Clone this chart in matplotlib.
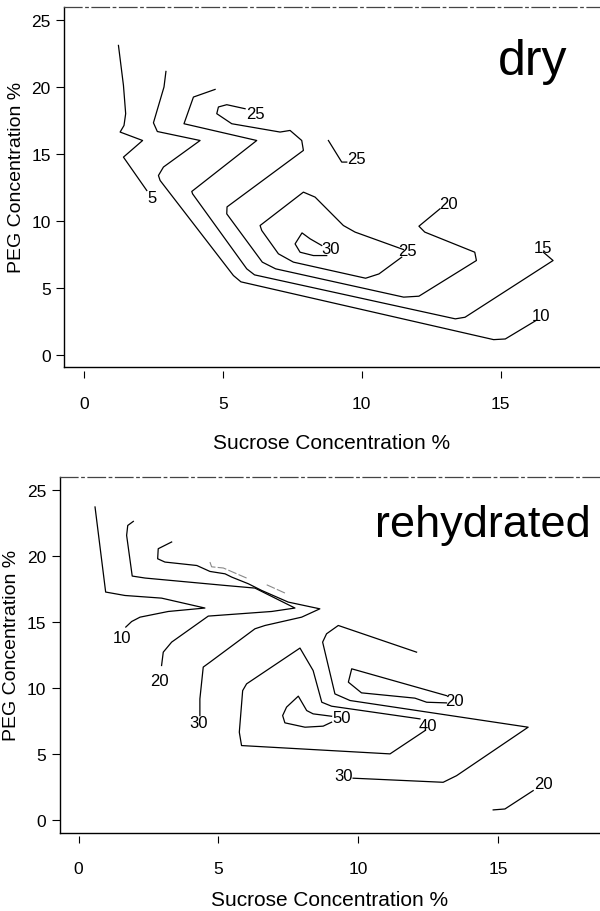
import matplotlib
matplotlib.use("Agg")
import matplotlib.pyplot as plt

plt.rcParams['font.family'] = ['Liberation Sans', 'DejaVu Sans']

# ---- dry panel: contour paths (sucrose %, PEG %) ----
dry_5_x = [1.24, 1.42, 1.50, 1.44, 1.30, 2.11, 1.42, 2.26]
dry_5_y = [23.08, 20.10, 17.99, 17.11, 16.62, 15.99, 14.75, 12.26]

dry_10_x = [2.95, 2.88, 2.50, 2.64, 4.18, 2.86, 2.68, 2.74, 5.38, 5.65, 14.75, 15.17, 16.27]
dry_10_y = [21.14, 19.98, 17.31, 16.66, 15.99, 14.01, 13.38, 13.01, 5.92, 5.45, 1.14, 1.19, 2.56]

dry_15_x = [4.72, 3.94, 3.60, 6.22, 3.88, 3.91, 5.86, 6.14, 13.37, 13.72, 16.89, 16.54]
dry_15_y = [19.80, 19.23, 17.24, 15.99, 12.19, 12.01, 6.42, 5.97, 2.69, 2.81, 7.04, 7.66]

dry_20_x = [5.80, 5.14, 4.84, 4.78, 5.32, 7.06, 7.42, 7.84, 7.90, 5.15, 5.14, 6.42, 6.90,
            11.51, 12.06, 14.13, 14.07, 12.27, 12.06, 12.82]
dry_20_y = [18.36, 18.66, 18.49, 17.99, 17.24, 16.62, 16.74, 15.99, 15.25, 11.04, 10.52, 6.92, 6.42,
            4.31, 4.38, 7.04, 7.66, 9.16, 9.60, 10.90]

dry_25_x = [11.44, 10.62, 10.14, 7.54, 7.00, 6.40, 6.34, 7.90, 8.32, 9.34, 9.76, 11.50]
dry_25_y = [7.29, 6.04, 5.72, 6.92, 7.54, 9.28, 9.65, 12.14, 11.77, 9.65, 9.16, 7.86]

dry_25b_x = [8.80, 9.28, 9.46]
dry_25b_y = [15.99, 14.38, 14.38]

dry_30_x = [8.56, 8.14, 7.85, 7.60, 7.78, 8.26, 8.74]
dry_30_y = [8.16, 8.66, 9.10, 8.28, 7.66, 7.41, 7.41]

dry_lab_txt = ['5', '10', '15', '25', '20', '25', '25', '30']
dry_lab_x = [2.44, 16.47, 16.54, 6.16, 13.11, 11.65, 9.82, 8.89]
dry_lab_y = [11.77, 2.93, 7.99, 17.99, 11.27, 7.78, 14.63, 7.91]

# ---- rehydrated panel ----
reh_10_x = [0.59, 0.97, 1.66, 2.97, 4.52, 3.21, 2.20, 1.90, 1.69]
reh_10_y = [23.73, 17.29, 17.03, 16.83, 16.08, 15.82, 15.39, 15.06, 14.64]

reh_20_x = [1.96, 1.76, 1.72, 1.92, 2.38, 5.24, 6.31, 7.74, 6.91, 4.64, 3.33, 3.03, 2.97]
reh_20_y = [22.64, 22.33, 21.58, 18.50, 18.35, 17.79, 17.59, 16.08, 15.82, 15.47, 13.50, 12.74, 11.73]

reh_30_x = [3.33, 2.85, 2.83, 3.09, 4.23, 4.70, 5.24, 5.48, 6.07, 6.55, 7.50, 8.63, 7.98,
            6.67, 6.31, 4.70, 4.46, 4.34, 4.34]
reh_30_y = [21.08, 20.57, 19.81, 19.56, 19.30, 18.85, 18.67, 18.42, 17.92, 17.41, 16.53, 16.02, 15.39,
            14.76, 14.51, 11.98, 11.61, 9.20, 7.94]

reh_faint_x = [4.70, 4.76, 5.18, 6.01]
reh_faint_y = [19.56, 19.20, 19.11, 18.35]
reh_faint2_x = [6.73, 7.44]
reh_faint2_y = [17.84, 17.16]

reh_30r_x = [12.09, 9.29, 8.87, 8.73, 9.17, 9.71, 16.08, 13.52, 13.04, 9.82]
reh_30r_y = [12.74, 14.76, 14.13, 13.50, 9.58, 9.08, 7.06, 3.39, 2.89, 3.20]

reh_40_x = [12.21, 9.05, 8.70, 8.39, 7.92, 6.01, 5.87, 5.75, 5.83, 11.14, 12.39]
reh_40_y = [7.69, 8.65, 8.95, 11.35, 13.05, 10.34, 9.83, 6.68, 5.67, 5.04, 6.80]

reh_50_x = [9.05, 8.75, 8.10, 7.38, 7.30, 7.44, 7.86, 8.16, 8.39, 9.05]
reh_50_y = [7.44, 7.14, 7.06, 7.39, 7.94, 8.58, 9.41, 8.32, 8.07, 7.89]

reh_20i_x = [13.16, 12.45, 12.03, 10.12, 9.65, 9.77, 13.16]
reh_20i_y = [8.90, 8.95, 9.26, 9.66, 10.47, 11.48, 9.45]

reh_20r_x = [14.83, 15.25, 16.26]
reh_20r_y = [0.80, 0.87, 2.26]

reh_lab_txt = ['10', '20', '30', '30', '40', '50', '20', '20']
reh_lab_x = [1.54, 2.91, 4.28, 9.47, 12.51, 9.41, 13.46, 16.62]
reh_lab_y = [13.83, 10.59, 7.44, 3.39, 7.18, 7.82, 9.08, 2.77]

xticks = [0, 5, 10, 15]
yticks = [0, 5, 10, 15, 20, 25]


def style_axes(ax, xlim, ylim, labelpad, ylab_x):
    ax.set_xlim(*xlim)
    ax.set_ylim(*ylim)
    ax.spines['right'].set_visible(False)
    ax.spines['top'].set_linestyle((0, (14, 3, 2, 3)))
    ax.spines['top'].set_color('#444444')
    ax.spines['top'].set_linewidth(0.9)
    ax.spines['left'].set_linewidth(1.0)
    ax.spines['bottom'].set_linewidth(1.0)
    ax.set_yticks(yticks)
    ax.tick_params(axis='y', length=5.5, width=0.8, pad=4, labelsize=12.5)
    ax.tick_params(axis='x', bottom=False, labelbottom=False)
    ax.set_ylabel("PEG Concentration %", fontsize=14)
    ax.yaxis.set_label_coords(ylab_x, 0.53)
    # x ticks sit a little below the frame
    sec = ax.secondary_xaxis(-0.009)
    sec.set_xticks(xticks)
    sec.spines['bottom'].set_visible(False)
    sec.tick_params(length=5, width=0.8, pad=13, labelsize=12.5)
    sec.set_xlabel("Sucrose Concentration %", fontsize=15, labelpad=labelpad)


fig = plt.figure(figsize=(6, 9.12), dpi=100)

ax1 = fig.add_axes([0.1067, 0.5962, 0.8933, 0.3951])
for xs, ys in [(dry_5_x, dry_5_y), (dry_10_x, dry_10_y), (dry_15_x, dry_15_y),
               (dry_20_x, dry_20_y), (dry_25_x, dry_25_y), (dry_25b_x, dry_25b_y),
               (dry_30_x, dry_30_y)]:
    ax1.plot(xs, ys, color='black', lw=0.9)
for t, x, y in zip(dry_lab_txt, dry_lab_x, dry_lab_y):
    ax1.text(x, y, t, fontsize=12, ha='center', va='center')
ax1.text(16.17, 20.97, "dry", fontsize=36, ha='center', va='baseline')
style_axes(ax1, (-0.72, 18.58), (-0.92, 25.95), 16, -0.072)

ax2 = fig.add_axes([0.0992, 0.0855, 0.9008, 0.3904])
for xs, ys in [(reh_10_x, reh_10_y), (reh_20_x, reh_20_y), (reh_30_x, reh_30_y),
               (reh_30r_x, reh_30r_y), (reh_40_x, reh_40_y), (reh_50_x, reh_50_y),
               (reh_20i_x, reh_20i_y), (reh_20r_x, reh_20r_y)]:
    ax2.plot(xs, ys, color='black', lw=0.9)
ax2.plot(reh_faint_x, reh_faint_y, color='#888888', lw=0.8, ls=(0, (8, 2)))
ax2.plot(reh_faint2_x, reh_faint2_y, color='#888888', lw=0.8, ls=(0, (8, 2)))
for t, x, y in zip(reh_lab_txt, reh_lab_x, reh_lab_y):
    ax2.text(x, y, t, fontsize=12, ha='center', va='center')
ax2.text(10.62, 21.55, "rehydrated", fontsize=32.5, ha='left', va='baseline')
style_axes(ax2, (-0.68, 18.65), (-0.95, 26.0), 10, -0.074)

fig.savefig("out.png", dpi=100)
